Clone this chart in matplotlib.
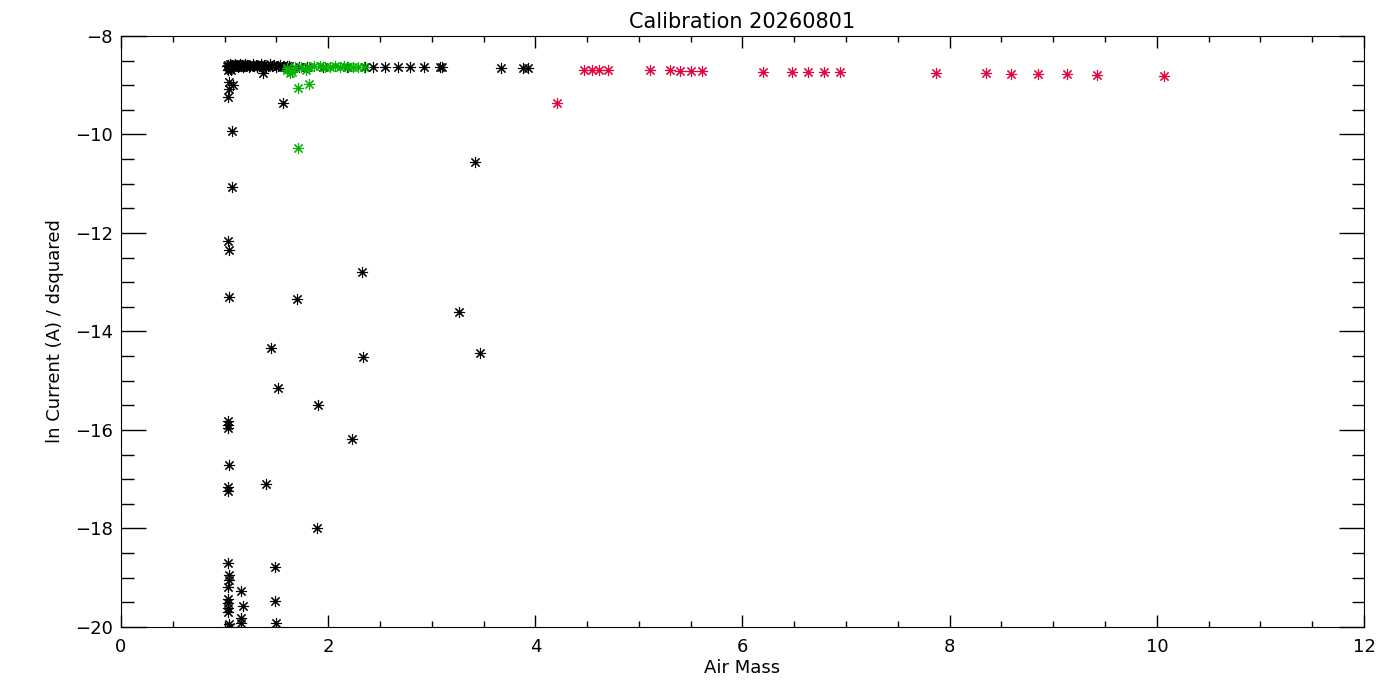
import matplotlib
matplotlib.use("Agg")
import matplotlib.pyplot as plt
from matplotlib.ticker import MultipleLocator

# black points: dense band near -8.6 then scattered low values
black_x = [1.02, 1.03, 1.04, 1.05, 1.06, 1.07, 1.08, 1.09, 1.10, 1.11, 1.12, 1.13,
           1.14, 1.15, 1.16, 1.17, 1.18, 1.19, 1.20, 1.21, 1.22, 1.24, 1.25, 1.27,
           1.28, 1.30, 1.31, 1.33, 1.35, 1.36, 1.38, 1.40, 1.42, 1.44, 1.46, 1.48,
           1.50, 1.52, 1.54, 1.56, 1.58, 1.60, 1.62, 1.72, 1.80, 1.95, 2.18, 2.36,
           2.43, 2.55, 2.67, 2.79, 2.93, 3.08, 3.10, 3.67, 3.88, 3.93,
           1.03, 1.05, 1.06, 1.37, 1.04, 1.08, 1.04, 1.03, 1.56,
           1.07, 1.07, 1.03, 1.04, 1.04, 3.42, 2.33, 3.26, 1.70, 1.45, 2.34, 3.47,
           1.52, 1.90, 2.23, 1.03, 1.03, 1.03, 1.04, 1.03, 1.03, 1.40, 1.89,
           1.03, 1.49, 1.04, 1.04, 1.03, 1.16, 1.03, 1.03, 1.18, 1.49, 1.03, 1.03,
           1.16, 1.16, 1.04, 1.50, 1.05]
black_y = [-8.60, -8.58, -8.62, -8.57, -8.61, -8.58, -8.62, -8.60, -8.57, -8.61, -8.58, -8.62,
           -8.60, -8.57, -8.61, -8.58, -8.62, -8.60, -8.57, -8.61, -8.58, -8.62, -8.60, -8.57,
           -8.61, -8.58, -8.62, -8.60, -8.57, -8.61, -8.58, -8.62, -8.60, -8.57, -8.61, -8.58,
           -8.62, -8.60, -8.58, -8.61, -8.62, -8.60, -8.61, -8.62, -8.62, -8.62, -8.62, -8.62,
           -8.62, -8.62, -8.62, -8.62, -8.62, -8.63, -8.63, -8.66, -8.66, -8.66,
           -8.69, -8.67, -8.70, -8.75, -8.93, -9.00, -9.08, -9.24, -9.36,
           -9.93, -11.07, -12.16, -12.35, -13.30, -10.56, -12.79, -13.60, -13.34, -14.33, -14.52, -14.44,
           -15.15, -15.49, -16.18, -15.82, -15.90, -15.96, -16.71, -17.16, -17.24, -17.10, -17.99,
           -18.70, -18.78, -18.94, -19.05, -19.19, -19.27, -19.43, -19.51, -19.57, -19.47, -19.61, -19.70,
           -19.82, -19.92, -19.94, -19.92, -20.00]

# green points
green_x = [1.60, 1.63, 1.60, 1.65, 1.68, 1.74, 1.79, 1.82, 1.86, 1.92, 1.97, 2.02,
           2.07, 2.11, 2.15, 2.19, 2.24, 2.29, 2.35, 1.71, 1.82, 1.71]
green_y = [-8.65, -8.75, -8.69, -8.73, -8.63, -8.62, -8.69, -8.63, -8.61, -8.61, -8.62, -8.62,
           -8.61, -8.62, -8.61, -8.62, -8.62, -8.62, -8.62, -9.06, -8.97, -10.27]

# red points
red_x = [4.21, 4.47, 4.55, 4.61, 4.70, 5.11, 5.30, 5.40, 5.50, 5.61,
         6.20, 6.48, 6.63, 6.79, 6.94, 7.87, 8.35, 8.59, 8.85, 9.13, 9.42, 10.07]
red_y = [-9.36, -8.69, -8.69, -8.69, -8.69, -8.69, -8.69, -8.72, -8.71, -8.72,
         -8.73, -8.73, -8.73, -8.73, -8.73, -8.75, -8.76, -8.77, -8.77, -8.78, -8.80, -8.82]

star = (8, 2, 0)
fig = plt.figure(figsize=(14, 7), dpi=100)
ax = fig.add_axes([0.0864, 0.1043, 0.8879, 0.8443])

ax.plot(black_x, black_y, ls='none', marker=star, ms=8, mew=0.8, color='black')
ax.plot(green_x, green_y, ls='none', marker=star, ms=8, mew=0.8, color='#00b400')
ax.plot(red_x, red_y, ls='none', marker=star, ms=8, mew=0.8, color='#e6003c')

ax.set_xlim(0, 12)
ax.set_ylim(-20, -8)
ax.xaxis.set_major_locator(MultipleLocator(2))
ax.xaxis.set_minor_locator(MultipleLocator(0.5))
ax.yaxis.set_major_locator(MultipleLocator(2))
ax.yaxis.set_minor_locator(MultipleLocator(0.5))
ax.tick_params(axis='both', which='both', direction='in', top=True, right=True,
               labelsize=13, width=1)
ax.tick_params(axis='x', which='major', length=8.6, pad=8)
ax.tick_params(axis='x', which='minor', length=4.3)
ax.tick_params(axis='y', which='major', length=18, pad=6)
ax.tick_params(axis='y', which='minor', length=9)

ax.set_title('Calibration 20260801', fontsize=15, pad=6)
ax.set_xlabel('Air Mass', fontsize=13, labelpad=2)
ax.set_ylabel('ln Current (A) / dsquared', fontsize=13, labelpad=8)

fig.savefig('out.png')
